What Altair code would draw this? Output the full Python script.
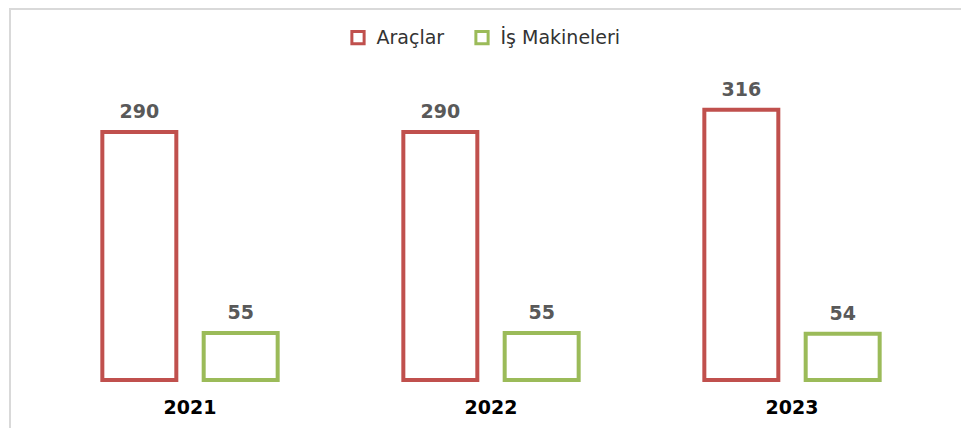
import altair as alt
import pandas as pd

years = ["2021", "2022", "2023"]
series = ["Araçlar", "İş Makineleri"]
aracl = [290, 290, 316]
is_mak = [55, 55, 54]
colors = ["#C0504D", "#9BBB59"]

rows = []
for i, y in enumerate(years):
    rows.append({"Yıl": y, "Seri": series[0], "Değer": aracl[i]})
    rows.append({"Yıl": y, "Seri": series[1], "Değer": is_mak[i]})
df = pd.DataFrame(rows)

W, H = 903, 342

base = alt.Chart(df).encode(
    x=alt.X("Yıl:N", sort=years,
            scale=alt.Scale(paddingInner=0, paddingOuter=0),
            axis=alt.Axis(title=None, labelAngle=0, domain=False, ticks=False,
                          labelFont="DejaVu Sans", labelFontWeight="bold",
                          labelFontSize=19, labelColor="#000000", labelPadding=18)),
    xOffset=alt.XOffset("Seri:N", sort=series,
                        scale=alt.Scale(paddingInner=0.27, paddingOuter=0.62)),
    y=alt.Y("Değer:Q", scale=alt.Scale(domain=[0, 400]), axis=None),
)

bars = base.mark_bar(fill="white", strokeWidth=4).encode(
    stroke=alt.Stroke("Seri:N", sort=series,
                      scale=alt.Scale(domain=series, range=colors),
                      legend=alt.Legend(title=None, orient="none", direction="horizontal",
                                        legendX=309, legendY=-10,
                                        symbolType="square", symbolSize=150,
                                        symbolFillColor="white", symbolStrokeWidth=3,
                                        labelFont="DejaVu Sans", labelFontSize=19,
                                        labelColor="#333333", labelOffset=9,
                                        columnPadding=25)),
)

labels = base.mark_text(baseline="alphabetic", dy=-14, font="DejaVu Sans",
                        fontWeight="bold", fontSize=19, color="#595959").encode(
    text=alt.Text("Değer:Q")
)

frame_df = pd.DataFrame({"k": [0]})
top_line = alt.Chart(frame_df).mark_rule(color="#d9d9d9", strokeWidth=2).encode(
    x=alt.value(-30), x2=alt.value(W + 40), y=alt.value(-29)
)
left_line = alt.Chart(frame_df).mark_rule(color="#d9d9d9", strokeWidth=2).encode(
    x=alt.value(-29.5), y=alt.value(-30), y2=alt.value(H + 50)
)

chart = alt.layer(top_line, left_line, bars, labels).properties(
    width=W, height=H,
    autosize=alt.AutoSizeParams(type="none"),
    padding={"left": 31.5, "top": 30, "right": 18, "bottom": 48},
    background="white",
).configure_view(stroke=None)

chart.save("out.html", embed_options={"renderer": "svg", "actions": False})
